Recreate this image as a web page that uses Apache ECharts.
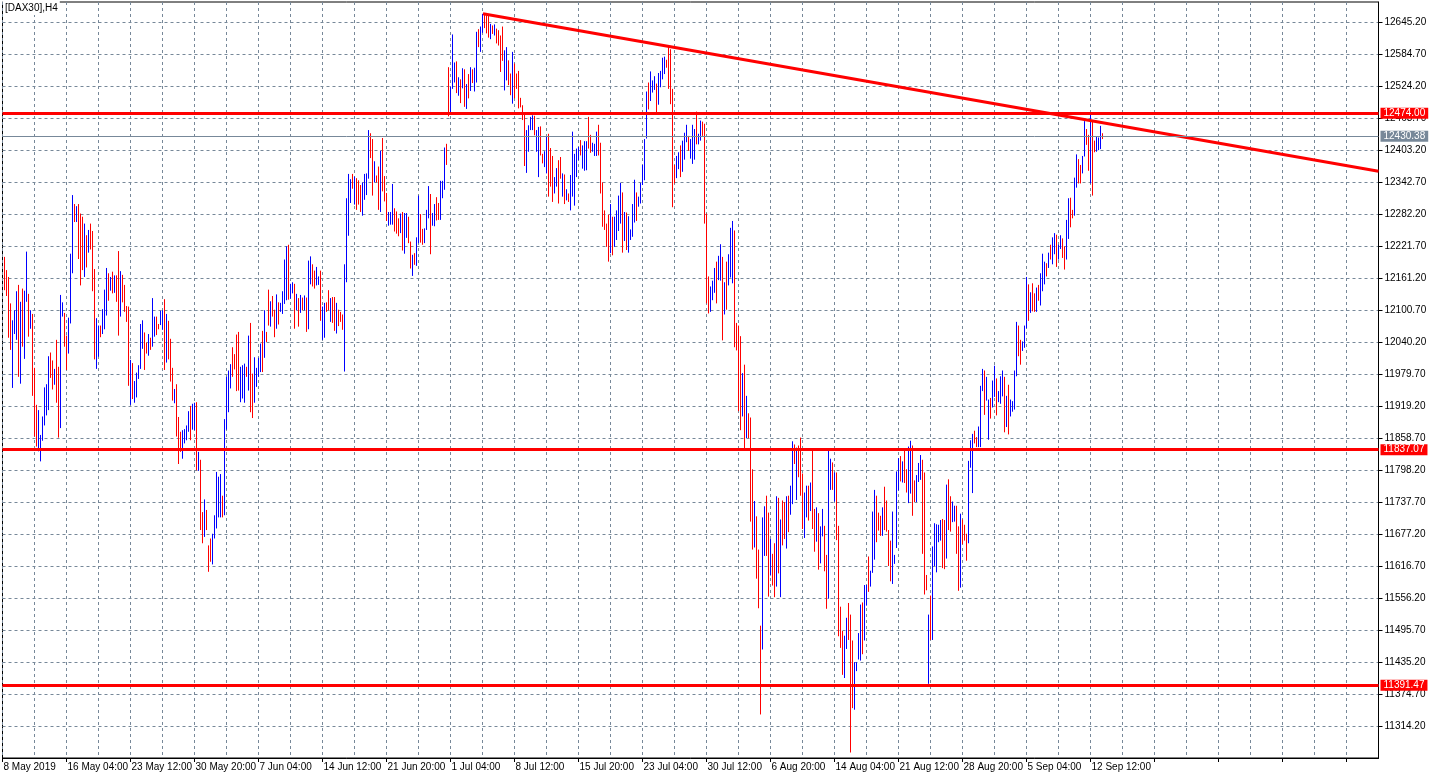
<!DOCTYPE html>
<html>
<head>
<meta charset="utf-8">
<script src="https://cdn.jsdelivr.net/npm/echarts@6/dist/echarts.min.js"></script>
<style>
html,body{margin:0;padding:0;background:#fff;}
#chart{width:1436px;height:779px;}
</style>
</head>
<body>
<div id="chart"></div>
<script>
var symbolTitle = '[DAX30],H4';
var xLabels = ['8 May 2019','16 May 04:00','23 May 12:00','30 May 20:00','7 Jun 04:00','14 Jun 12:00','21 Jun 20:00','1 Jul 04:00','8 Jul 12:00','15 Jul 20:00','23 Jul 04:00','30 Jul 12:00','6 Aug 20:00','14 Aug 04:00','21 Aug 12:00','28 Aug 20:00','5 Sep 04:00','12 Sep 12:00'];
var yTicks = [11314.2,11374.7,11435.2,11495.7,11556.2,11616.7,11677.2,11737.7,11798.2,11858.7,11919.2,11979.7,12040.2,12100.7,12161.2,12221.7,12282.2,12342.7,12403.2,12463.7,12524.2,12584.7,12645.2];
var levels = [12474.00, 11837.07, 11391.47];
var lastPrice = 12430.38;
var trendLine = [[240.25, 12662], [688, 12364]];

var highs = [
12202,12177,12164,12114,12082,12101,12137,12149,12117,12142,
12138,12212,12132,12101,12094,11992,11922,11912,11865,11900,
11955,11961,12014,12021,12006,11990,12045,11994,12130,12116,
12096,12053,12087,12208,12319,12302,12298,12302,12284,12278,
12265,12243,12253,12265,12251,12179,12086,12072,12072,12103,
12140,12181,12171,12164,12174,12167,12167,12213,12175,12168,
12149,12109,12108,12007,12001,11967,11983,11997,12075,12082,
12059,12040,12056,12049,12124,12089,12089,12075,12100,12101,
12122,12094,12081,12047,11992,11952,11961,11899,11871,11874,
11876,11883,11910,11920,11924,11926,11927,11833,11818,11719,
11743,11723,11656,11669,11678,11713,11795,11786,11791,11750,
11895,11975,11987,11999,12031,12018,12055,12060,11994,11997,
12000,11994,12053,12077,11981,12012,11992,12011,12038,12062,
12101,12060,12140,12118,12128,12102,12131,12116,12115,12137,
12197,12222,12225,12151,12154,12151,12132,12124,12130,12125,
12129,12125,12195,12203,12188,12176,12183,12165,12176,12108,
12115,12116,12139,12124,12126,12126,12115,12102,12098,12093,
12188,12313,12359,12349,12359,12354,12351,12347,12338,12343,
12359,12360,12442,12436,12425,12383,12356,12373,12403,12427,
12355,12323,12287,12287,12340,12294,12288,12275,12284,12287,
12285,12285,12278,12231,12206,12209,12239,12318,12283,12255,
12256,12291,12336,12321,12285,12302,12315,12304,12346,12346,
12409,12416,12561,12524,12623,12570,12572,12542,12538,12559,
12557,12529,12548,12561,12557,12560,12628,12633,12638,12662,
12661,12660,12658,12643,12640,12642,12634,12631,12621,12638,
12593,12599,12574,12549,12590,12568,12549,12554,12503,12489,
12476,12442,12451,12467,12470,12469,12442,12448,12449,12397,
12402,12429,12435,12408,12393,12353,12370,12385,12391,12360,
12358,12330,12322,12357,12439,12397,12407,12410,12423,12413,
12421,12421,12467,12433,12418,12416,12439,12452,12418,12343,
12290,12265,12282,12302,12278,12278,12290,12318,12342,12324,
12287,12286,12279,12254,12302,12348,12324,12316,12342,12376,
12425,12515,12532,12553,12536,12544,12530,12550,12554,12579,
12581,12575,12600,12595,12520,12376,12393,12400,12413,12422,
12437,12452,12431,12425,12452,12444,12477,12435,12460,12458,
12454,12284,12165,12146,12157,12181,12193,12204,12226,12202,
12154,12193,12207,12257,12270,12252,12077,12072,12052,11982,
11998,11939,11906,11898,11800,11740,11711,11648,11504,11709,
11730,11750,11718,11668,11640,11660,11749,11746,11705,11741,
11738,11749,11750,11769,11853,11847,11841,11845,11860,11792,
11756,11769,11769,11775,11835,11725,11728,11717,11692,11725,
11693,11638,11835,11820,11813,11794,11794,11693,11540,11494,
11485,11519,11547,11525,11476,11435,11435,11490,11544,11548,
11581,11581,11635,11608,11720,11761,11750,11718,11712,11728,
11767,11741,11685,11665,11720,11638,11796,11821,11825,11815,
11835,11800,11843,11854,11845,11779,11789,11812,11827,11818,
11794,11600,11525,11561,11654,11698,11696,11695,11704,11706,
11704,11771,11781,11749,11739,11731,11731,11692,11716,11705,
11695,11678,11816,11855,11867,11873,11861,11881,11958,11990,
11987,11975,11932,11935,11968,11996,11972,11948,11976,11987,
11975,11939,11960,11932,11929,11987,12079,12072,12045,12042,
12072,12164,12150,12135,12152,12133,12144,12149,12171,12208,
12193,12190,12210,12225,12239,12247,12244,12225,12243,12237,
12222,12272,12313,12314,12291,12352,12396,12387,12376,12393,
12459,12444,12433,12472,12461,12422,12430,12428,12450,12436
];

var lows = [
12139,12128,12049,12026,11954,12056,12045,11975,11962,12032,
12009,12117,12051,12066,11939,11862,11843,11834,11815,11854,
11883,11902,11912,11973,11951,11960,11926,11860,11878,12089,
12032,11988,12019,12076,12171,12268,12268,12198,12148,12177,
12164,12182,12210,12216,12137,12008,11990,12013,12050,12056,
12065,12091,12119,12138,12133,12134,12117,12053,12089,12116,
12098,12079,11958,11922,11933,11926,11936,11971,11990,12028,
11988,12019,12015,12026,12032,12051,12054,12065,12073,12064,
11988,12002,12008,11966,11930,11925,11862,11810,11833,11820,
11849,11855,11871,11855,11875,11874,11798,11797,11685,11660,
11672,11685,11606,11625,11620,11669,11688,11709,11709,11709,
11713,11875,11908,11953,11975,11989,11948,11949,11927,11934,
11926,11975,11949,11908,11897,11926,11956,11975,11984,11984,
12011,12041,12072,12070,12089,12050,12066,12074,12098,12094,
12113,12120,12121,12123,12133,12066,12101,12070,12096,12101,
12101,12060,12065,12150,12146,12142,12148,12149,12081,12045,
12049,12098,12101,12079,12077,12062,12057,12071,12079,12064,
11985,12154,12242,12304,12331,12301,12291,12301,12287,12280,
12310,12319,12350,12389,12318,12343,12343,12291,12287,12326,
12307,12270,12261,12263,12263,12250,12246,12241,12247,12214,
12208,12238,12228,12180,12166,12187,12185,12228,12229,12225,
12228,12253,12275,12207,12261,12260,12271,12272,12272,12313,
12329,12376,12468,12476,12520,12532,12512,12507,12493,12521,
12486,12482,12502,12516,12531,12515,12532,12599,12590,12626,
12635,12625,12617,12614,12624,12621,12606,12602,12552,12573,
12517,12536,12527,12508,12492,12502,12520,12483,12485,12461,
12374,12361,12401,12442,12442,12432,12401,12353,12394,12379,
12372,12360,12316,12335,12306,12322,12335,12303,12350,12316,
12302,12309,12306,12290,12316,12299,12353,12385,12394,12369,
12365,12366,12407,12399,12401,12393,12393,12394,12322,12259,
12253,12221,12193,12209,12205,12221,12234,12251,12265,12210,
12232,12215,12210,12234,12240,12267,12270,12297,12303,12338,
12347,12426,12481,12497,12513,12518,12476,12490,12523,12538,
12548,12560,12520,12491,12296,12341,12351,12368,12353,12363,
12386,12419,12403,12388,12378,12386,12415,12415,12422,12431,
12265,12114,12095,12098,12120,12134,12114,12158,12157,12044,
12093,12102,12148,12163,12152,12031,12025,11910,11874,11900,
11839,11859,11859,11701,11648,11652,11593,11537,11336,11459,
11636,11636,11559,11599,11580,11558,11578,11603,11558,11656,
11668,11650,11681,11714,11734,11810,11742,11785,11750,11687,
11670,11709,11703,11721,11687,11644,11663,11610,11622,11673,
11607,11536,11555,11761,11761,11739,11666,11484,11462,11411,
11405,11460,11477,11264,11348,11345,11418,11440,11438,11450,
11476,11542,11568,11578,11604,11629,11662,11684,11674,11674,
11685,11682,11617,11588,11583,11621,11651,11760,11777,11775,
11774,11756,11736,11754,11712,11738,11738,11776,11780,11640,
11563,11571,11394,11477,11477,11617,11605,11662,11665,11613,
11611,11631,11685,11682,11700,11701,11640,11570,11576,11658,
11665,11627,11660,11803,11755,11849,11842,11842,11842,11948,
11903,11930,11856,11896,11917,11937,11902,11927,11924,11938,
11870,11880,11866,11900,11909,11913,11976,12014,11998,12024,
12030,12067,12081,12096,12099,12098,12098,12119,12110,12137,
12150,12165,12181,12197,12188,12207,12183,12197,12217,12200,
12178,12197,12236,12258,12275,12280,12333,12341,12341,12360,
12392,12414,12365,12341,12318,12400,12401,12404,12406,12425
];

var ups = [
0,0,0,0,1,1,1,0,1,0, 1,1,0,1,0,0,0,1,1,1, 1,1,1,0,0,1,0,0,1,1, 0,0,1,1,1,0,1,0,0,0,
1,0,1,0,0,0,1,1,0,1, 1,1,0,1,0,1,0,0,1,0, 0,0,0,1,0,1,1,1,1,1, 0,0,1,0,1,1,0,0,1,1,
0,1,0,0,0,1,0,0,0,1, 1,1,1,0,1,1,0,1,0,0, 1,0,0,0,1,1,1,1,1,0, 1,1,1,1,0,0,0,0,1,1,
1,0,1,0,0,1,1,1,1,0, 1,0,0,1,0,0,1,0,1,1, 1,1,0,1,1,0,1,0,1,0, 1,0,1,1,0,0,1,1,0,1,
1,0,0,1,0,0,1,0,0,0, 1,1,1,1,0,1,0,0,0,1, 1,1,1,0,0,1,0,0,1,0, 0,0,1,1,1,0,0,0,1,0,
1,1,0,0,1,0,1,1,0,0, 1,1,1,0,1,1,0,0,1,1, 1,0,0,1,1,1,0,1,0,1, 0,1,0,1,0,1,1,0,1,1,
0,0,0,1,0,1,0,0,0,0, 1,1,0,0,1,0,0,0,0,0, 0,1,1,1,1,0,1,1,0,0, 1,1,0,0,0,1,1,0,0,1,
0,1,0,1,1,1,1,1,0,1, 1,1,0,0,1,1,1,0,0,0, 0,0,0,1,0,1,1,1,1,0, 1,0,1,1,1,1,0,1,1,1,
1,1,0,1,1,1,0,1,1,1, 1,0,0,0,0,0,1,1,0,1, 1,1,0,1,1,1,0,1,1,0, 0,0,0,1,1,1,0,1,1,0,
1,0,1,1,1,0,0,0,0,1, 0,1,0,0,0,1,0,0,0,1, 1,0,0,1,0,0,1,0,1,0, 0,1,0,1,1,0,1,0,0,0,
1,1,0,1,0,0,1,0,1,1, 0,0,1,1,0,1,0,0,0,0, 1,1,0,0,0,1,1,1,1,0, 1,1,0,1,1,1,0,0,0,1,
0,0,0,0,1,1,1,1,0,1, 0,0,1,1,0,0,1,1,1,0, 0,0,1,0,1,1,1,1,1,0, 0,1,0,0,1,1,0,0,1,0,
0,0,1,1,1,0,0,1,1,1, 0,1,1,0,1,1,0,1,1,1, 0,1,0,1,1,1,1,0,0,1, 1,1,0,1,0,0,1,0,1,1,
1,0,1,0,1,1,0,1,1,0, 0,1,1,0,0,1,1,0,0,1, 1,0,0,1,0,0,1,1,1,0
];

var FONT = 'Liberation Sans';
var GRID_COLOR = '#778899';

var barData = highs.map(function (h, i) { return [i + 1, h, lows[i], ups[i]]; });

var chart = echarts.init(document.getElementById('chart'), null, {renderer: 'canvas'});

var levelLines = levels.map(function (v) {
  return {
    yAxis: v,
    lineStyle: {color: '#FF0000', width: 3, type: 'solid'},
    label: {show: true, position: 'end', distance: 2, formatter: v.toFixed(2),
      backgroundColor: '#FF0000', color: '#FFFFFF', padding: [1, 3, 0, 3],
      fontSize: 10, fontFamily: FONT}
  };
});
levelLines.push({
  yAxis: lastPrice,
  lineStyle: {color: GRID_COLOR, width: 1, type: 'solid'},
  label: {show: true, position: 'end', distance: 2, formatter: lastPrice.toFixed(2),
    backgroundColor: GRID_COLOR, color: '#FFFFFF', padding: [1, 3, 0, 3],
    fontSize: 10, fontFamily: FONT}
});

var option = {
  animation: false,
  backgroundColor: '#FFFFFF',
  title: {
    text: symbolTitle, left: 3, top: 1, padding: [2, 2, 2, 2],
    backgroundColor: '#FFFFFF',
    textStyle: {fontSize: 10, fontWeight: 'normal', color: '#000', fontFamily: FONT}
  },
  grid: {left: 2.5, right: 57.5, top: 2, bottom: 21, show: true,
    borderColor: '#000', borderWidth: 1, backgroundColor: '#FFFFFF', containLabel: false},
  xAxis: [{
    type: 'value', min: 0, max: 688, interval: 16, position: 'bottom',
    axisLine: {show: false}, axisTick: {show: false}, axisLabel: {show: false},
    splitLine: {show: true, lineStyle: {color: GRID_COLOR, type: [3, 3], width: 1}}
  }, {
    type: 'value', min: 0, max: 688, interval: 32, position: 'bottom',
    axisLine: {show: true, onZero: false, lineStyle: {color: '#000', width: 1}},
    axisTick: {show: true, length: 4, lineStyle: {color: '#000'}},
    splitLine: {show: false},
    axisLabel: {show: true, color: '#000', fontSize: 10, fontFamily: FONT, align: 'left',
      margin: 4, padding: [0, 0, 0, 1], showMaxLabel: false,
      formatter: function (v) {
        var k = Math.round(v / 32);
        return (v % 32 === 0 && k < xLabels.length) ? xLabels[k] : '';
      }}
  }],
  yAxis: {
    type: 'value', position: 'right', min: 11253.6, max: 12684.4, scale: true,
    axisLine: {show: true, onZero: false, lineStyle: {color: '#000', width: 1}},
    axisTick: {show: true, length: 4, lineStyle: {color: '#000'}, customValues: yTicks},
    axisLabel: {show: true, color: '#000', fontSize: 10, fontFamily: FONT, margin: 6,
      customValues: yTicks,
      formatter: function (v) { return Number(v).toFixed(2); }},
    splitLine: {show: true, lineStyle: {color: GRID_COLOR, type: [3, 3], width: 1}}
  },
  series: [{
    type: 'custom',
    xAxisIndex: 0,
    data: barData,
    encode: {x: 0, y: [1, 2]},
    renderItem: function (params, api) {
      var x = api.value(0);
      var p1 = api.coord([x, api.value(1)]);
      var p2 = api.coord([x, api.value(2)]);
      return {
        type: 'line',
        shape: {x1: p1[0], y1: p1[1], x2: p2[0], y2: p2[1]},
        style: {stroke: api.value(3) ? '#0000FF' : '#FF0000', lineWidth: 1}
      };
    },
    markLine: {
      silent: true, symbol: ['none', 'none'], animation: false,
      data: levelLines
    },
    z: 2
  }, {
    type: 'line',
    xAxisIndex: 0,
    data: trendLine,
    symbol: 'none',
    lineStyle: {color: '#FF0000', width: 3},
    silent: true,
    z: 4
  }]
};
chart.setOption(option);
</script>
</body>
</html>
